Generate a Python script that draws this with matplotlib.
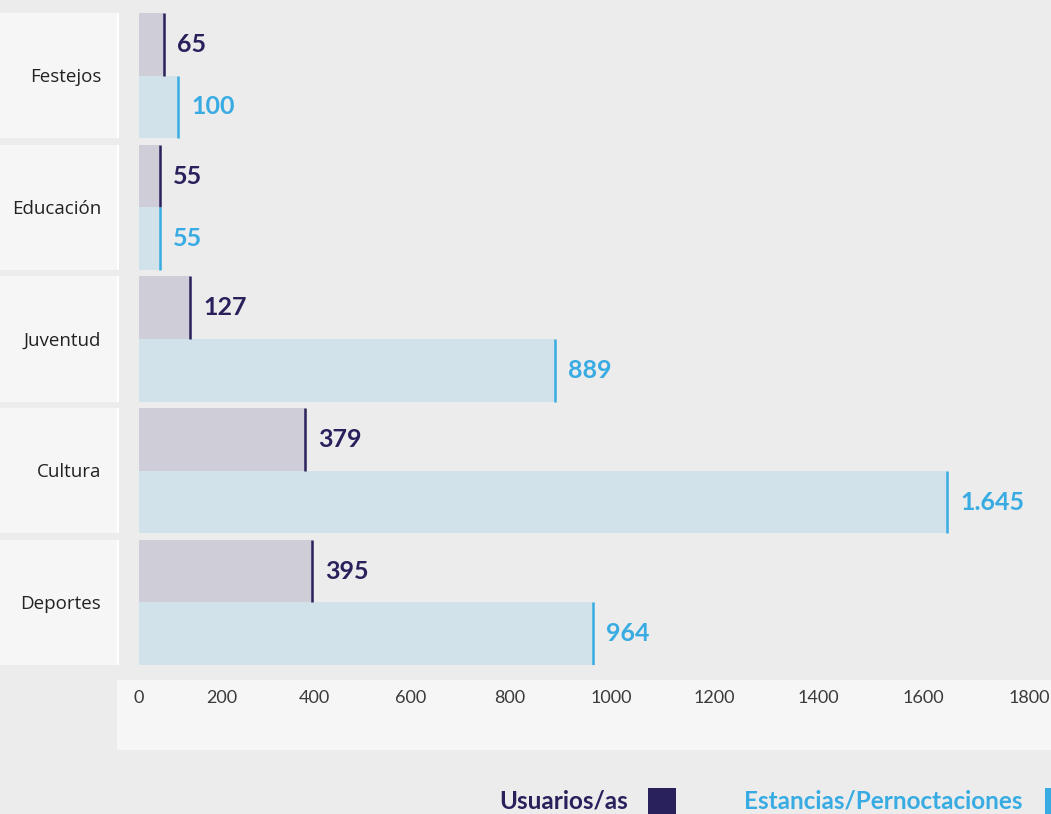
import numpy as np
import matplotlib
matplotlib.use("Agg")
import matplotlib.pyplot as plt
from matplotlib.patches import Rectangle
from matplotlib.transforms import blended_transform_factory

# ---------------------------
# Data
# ---------------------------
categories = ["Festejos", "Educación", "Juventud", "Cultura", "Deportes"]
usuarios = [65, 55, 127, 379, 395]
estancias = [100, 55, 889, 1645, 964]
usuarios_labels = ["65", "55", "127", "379", "395"]
estancias_labels = ["100", "55", "889", "1.645", "964"]
ticks = [0, 200, 400, 600, 800, 1000, 1200, 1400, 1600, 1800]

# ---------------------------
# Colours
# ---------------------------
bg = "#ececec"
panel = "#f6f6f6"
navy = "#29215c"
navy_fill = "#cfcdd8"
blue = "#38ace2"
blue_fill = "#d2e2ea"

W, H = 1051, 814
fig = plt.figure(figsize=(W / 100, H / 100), dpi=100, facecolor=bg)

# main axes: x from 139px to right edge, y from 13px to 665px
ax = fig.add_axes([139 / W, (H - 665) / H, (W - 139) / W, 652 / H])
ax.set_facecolor(bg)
ax.set_zorder(2)

# the original chart uses a slightly stretched axis
power = 1.08
ax.set_xscale("function", functions=(lambda x: np.sign(x) * np.abs(x) ** power,
                                     lambda x: np.sign(x) * np.abs(x) ** (1 / power)))
ax.set_xlim(0, 1840)

y = np.arange(len(categories))
bh = 0.475
y_u = y - bh / 2
y_e = y + bh / 2

ax.barh(y_u, usuarios, height=bh, color=navy_fill, linewidth=0)
ax.barh(y_e, estancias, height=bh, color=blue_fill, linewidth=0)
ax.vlines(usuarios, y_u - bh / 2, y_u + bh / 2, color=navy, linewidth=1.8)
ax.vlines(estancias, y_e - bh / 2, y_e + bh / 2, color=blue, linewidth=1.8)

for yy, v, lab in zip(y_u, usuarios, usuarios_labels):
    ax.annotate(lab, (v, yy), xytext=(9.5, 0), textcoords="offset points",
                ha="left", va="center", color=navy, fontsize=18,
                fontweight="bold", family="Lato")
for yy, v, lab in zip(y_e, estancias, estancias_labels):
    ax.annotate(lab, (v, yy), xytext=(9.5, 0), textcoords="offset points",
                ha="left", va="center", color=blue, fontsize=18,
                fontweight="bold", family="Lato")

ax.set_ylim(len(categories) - 1 + bh, -bh)
ax.set_yticks([])
ax.set_xticks(ticks)
ax.set_xticklabels([str(t) for t in ticks], family="Lato", fontweight="normal",
                   fontsize=13, color="#3a3a3a")
ax.tick_params(axis="x", length=0, pad=18)
for s in ax.spines.values():
    s.set_visible(False)

# ---------------------------
# Category label panels on the left
# ---------------------------
trans = blended_transform_factory(fig.transFigure, ax.transData)
for yy, cat in zip(y, categories):
    fig.patches.append(Rectangle((0, yy - bh), 117 / W, 2 * bh,
                                 transform=trans, facecolor=panel,
                                 edgecolor="none", zorder=-1))
    fig.patches.append(Rectangle((117 / W, yy - bh), 2 / W, 2 * bh,
                                 transform=trans, facecolor="white",
                                 edgecolor="none", zorder=-1))
    fig.text(101 / W, yy + 0.01, cat, transform=trans, ha="right", va="center",
             fontsize=13.5, color="#222222", family="Open Sans")

# tick label panel
fig.patches.append(Rectangle((117 / W, (H - 750) / H), (W - 117) / W, 70 / H,
                             transform=fig.transFigure, facecolor=panel,
                             edgecolor="none", zorder=-1))

# ---------------------------
# Legend
# ---------------------------
fig.text(628 / W, (H - 801) / H, "Usuarios/as", ha="right", va="center",
         fontsize=17.5, fontweight="bold", color=navy, family="Lato")
fig.patches.append(Rectangle((648 / W, 0), 28 / W, 26 / H,
                             transform=fig.transFigure, facecolor=navy,
                             edgecolor="none"))
fig.text(1023 / W, (H - 801) / H, "Estancias/Pernoctaciones", ha="right",
         va="center", fontsize=17.5, fontweight="bold", color=blue, family="Lato")
fig.patches.append(Rectangle((1045 / W, 0), 6 / W, 26 / H,
                             transform=fig.transFigure, facecolor=blue,
                             edgecolor="none"))

fig.savefig("out.png", dpi=100, facecolor=bg)
